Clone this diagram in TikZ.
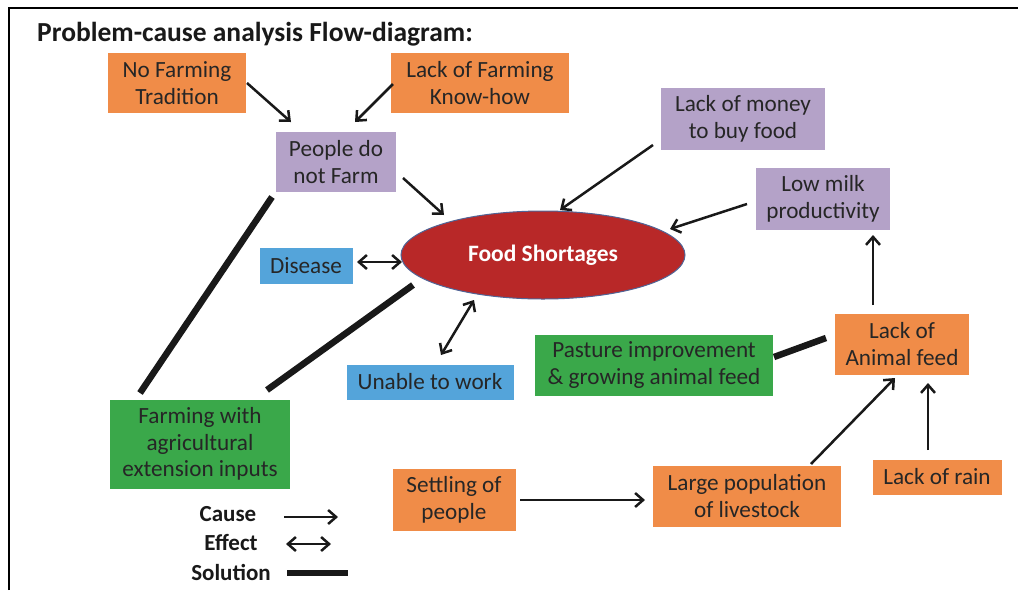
\documentclass[tikz,border=0pt]{standalone}
\usepackage{fontspec}
\setmainfont{Carlito}
\usetikzlibrary{arrows.meta,calc,shapes.geometric}
\definecolor{orangebox}{RGB}{240,140,72}
\definecolor{purplebox}{RGB}{180,162,200}
\definecolor{bluebox}{RGB}{84,164,218}
\definecolor{greenbox}{RGB}{58,168,74}
\definecolor{redfill}{RGB}{184,40,40}
\definecolor{rededge}{RGB}{80,100,150}
\definecolor{txt}{RGB}{38,38,38}
\tikzset{
  box/.style={rectangle,inner sep=0pt,align=center,text=txt,font=\fontsize{23.2}{26.5}\selectfont},
  orng/.style={box,fill=orangebox},
  purp/.style={box,fill=purplebox},
  blu/.style={box,fill=bluebox},
  grn/.style={box,fill=greenbox},
  cause/.style={draw=black!90,line width=2.5pt,-{Straight Barb[length=8pt,width=14pt,line width=2.5pt]}},
  effect/.style={draw=black!90,line width=2.5pt,{Straight Barb[length=8pt,width=14pt,line width=2.5pt]}-{Straight Barb[length=8pt,width=14pt,line width=2.5pt]}},
  solution/.style={draw=black!90,line width=6.5pt},
  legtext/.style={font=\bfseries\fontsize{23}{26}\selectfont,text=black!90,inner sep=0pt}
}
\begin{document}
\begin{tikzpicture}[x=1pt,y=-1pt]
\useasboundingbox (0,0) rectangle (1018,590);
\fill[white] (0,0) rectangle (1018,590);
\draw[line width=1.2pt] (9,590) -- (9,8) -- (1018,8);
\node[anchor=west,font=\bfseries\fontsize{27.5}{32}\selectfont,text=black!90,inner sep=0pt] (title) at (37,34) {Problem-cause analysis Flow-diagram:};
% nodes
\node[orng,minimum width=138pt,minimum height=60pt] (nft) at (177,83) {No Farming\\Tradition};
\node[orng,minimum width=178pt,minimum height=60pt] (lfk) at (480,83) {Lack of Farming\\Know-how};
\node[purp,minimum width=120pt,minimum height=60pt] (people) at (336,162) {People do\\not Farm};
\node[purp,minimum width=164pt,minimum height=62pt] (money) at (743,119) {Lack of money\\to buy food};
\node[purp,minimum width=134pt,minimum height=62pt] (milk) at (823,199) {Low milk\\productivity};
\node[ellipse,draw=rededge,line width=1pt,fill=redfill,minimum width=284pt,minimum height=88pt,inner sep=0pt,text=white,font=\bfseries\fontsize{23.5}{27}\selectfont] (food) at (543,255) {Food Shortages};
\node[blu,minimum width=93pt,minimum height=36pt] (disease) at (306,266) {Disease};
\node[blu,minimum width=167pt,minimum height=35pt] (unable) at (430,382) {Unable to work};
\node[grn,minimum width=238pt,minimum height=61pt] (pasture) at (654,365) {Pasture improvement\\\& growing animal feed};
\node[orng,minimum width=134pt,minimum height=61pt] (feed) at (902,344) {Lack of\\Animal feed};
\node[grn,minimum width=180pt,minimum height=89pt] (farming) at (200,444) {Farming with\\agricultural\\extension inputs};
\node[orng,minimum width=123pt,minimum height=62pt] (settling) at (454,500) {Settling of\\people};
\node[orng,minimum width=188pt,minimum height=61pt] (livestock) at (747,496) {Large population\\of livestock};
\node[orng,minimum width=129pt,minimum height=35pt] (rain) at (937,477) {Lack of rain};
% connectors
\draw[cause] ($(nft.center)+(70,0)$) -- ($(people.center)+(-45,-40)$);
\draw[cause] ($(lfk.center)+(-87,1)$) -- ($(people.center)+(19,-40)$);
\draw[cause] ($(people.center)+(67,16)$) -- ($(food.center)+(-99,-40)$);
\draw[cause] ($(money.center)+(-90,26)$) -- ($(food.center)+(17,-45)$);
\draw[cause] ($(milk.center)+(-76,5)$) -- ($(food.center)+(127,-26)$);
\draw[effect] ($(disease.center)+(51,-4)$) -- ($(food.center)+(-141,7)$);
\draw[effect] ($(food.center)+(-69,45)$) -- ($(unable.center)+(11,-27)$);
\draw[solution] ($(people.center)+(-64,35)$) -- ($(farming.center)+(-60,-51)$);
\draw[solution] ($(food.center)+(-130,30)$) -- ($(farming.center)+(67,-54)$);
\draw[solution] ($(pasture.center)+(120,-8)$) -- ($(feed.center)+(-76,-6)$);
\draw[cause] ($(feed.center)+(-29,-39)$) -- ($(milk.center)+(50,36)$);
\draw[cause] ($(livestock.center)+(64,-32)$) -- ($(feed.center)+(-7,34)$);
\draw[cause] ($(rain.center)+(-9,-27)$) -- ($(feed.center)+(26,39)$);
\draw[cause] ($(settling.center)+(66,0)$) -- ($(livestock.center)+(-102,4)$);
% legend
\node[legtext] (lcause) at (228,514) {Cause};
\node[legtext] (leffect) at (231,542) {Effect};
\node[legtext] (lsol) at (231,572) {Solution};
\coordinate (c1) at (284,517); \coordinate (c2) at (338,517);
\coordinate (e1) at (286,544); \coordinate (e2) at (331,544);
\coordinate (s1) at (287,573); \coordinate (s2) at (348,573);
\draw[cause] (c1) -- (c2);
\draw[effect] (e1) -- (e2);
\draw[solution] (s1) -- (s2);
\end{tikzpicture}
\end{document}
